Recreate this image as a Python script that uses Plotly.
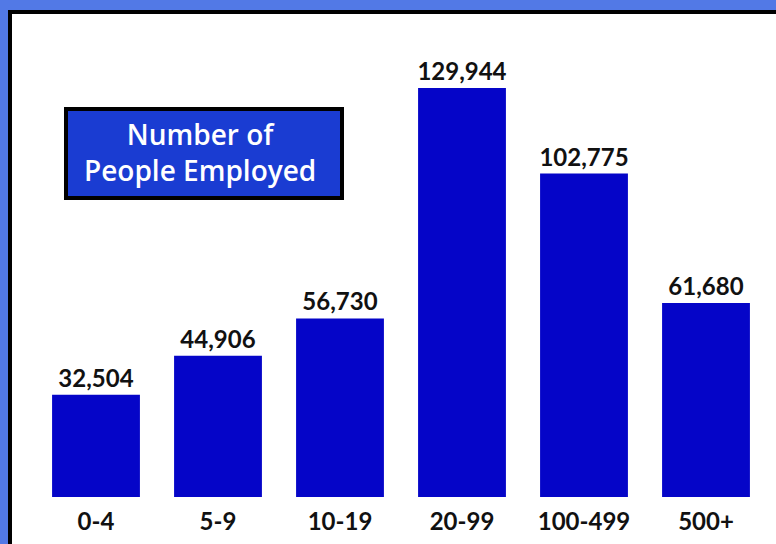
import plotly.graph_objects as go

categories = ["0-4", "5-9", "10-19", "20-99", "100-499", "500+"]
employed = [32504, 44906, 56730, 129944, 102775, 61680]
value_labels = [f"{v:,}" for v in employed]
title_lines = ["Number of", "People Employed"]

W, H = 776, 544
L, R, T, B = 35, 9, 25, 47
pw, ph = W - L - R, H - T - B

def px(x):
    return (x - L) / pw

def py(y):
    return 1 - (y - T) / ph

fig = go.Figure(go.Bar(
    x=categories, y=employed,
    marker=dict(color="#0505c8", line=dict(width=0)),
    text=value_labels, textposition="outside", constraintext="none",
    textfont=dict(family="Lato", size=24, color="#111111", weight="bold"),
    cliponaxis=False, width=0.72,
))

shapes = [
    dict(type="rect", xref="paper", yref="paper", layer="below",
         x0=px(10), x1=px(800), y0=py(12), y1=py(580),
         fillcolor="white", line=dict(color="black", width=4)),
    dict(type="rect", xref="paper", yref="paper",
         x0=px(66), x1=px(342), y0=py(109), y1=py(198),
         fillcolor="#1a3cd2", line=dict(color="black", width=4)),
]

fig.update_layout(
    width=W, height=H,
    margin=dict(l=L, r=R, t=T, b=B),
    paper_bgcolor="#5279e6", plot_bgcolor="white",
    showlegend=False, shapes=shapes,
    xaxis=dict(showgrid=False, showline=False, ticks="", zeroline=False,
               tickfont=dict(family="Lato", size=24, color="#111111", weight="bold"),
               ticklabelstandoff=8, range=[-0.5, 5.5]),
    yaxis=dict(range=[0, 150000], visible=False, showgrid=False, zeroline=False),
    annotations=[dict(
        xref="paper", yref="paper", x=px(200), y=py(152),
        text="<br>".join(title_lines), showarrow=False,
        font=dict(family="Open Sans", size=28, color="white", weight=600),
        xanchor="center", yanchor="middle", align="center",
    )],
)

fig.write_html("out.html", config={"displayModeBar": False},
               post_script="document.body.style.margin='0';")
